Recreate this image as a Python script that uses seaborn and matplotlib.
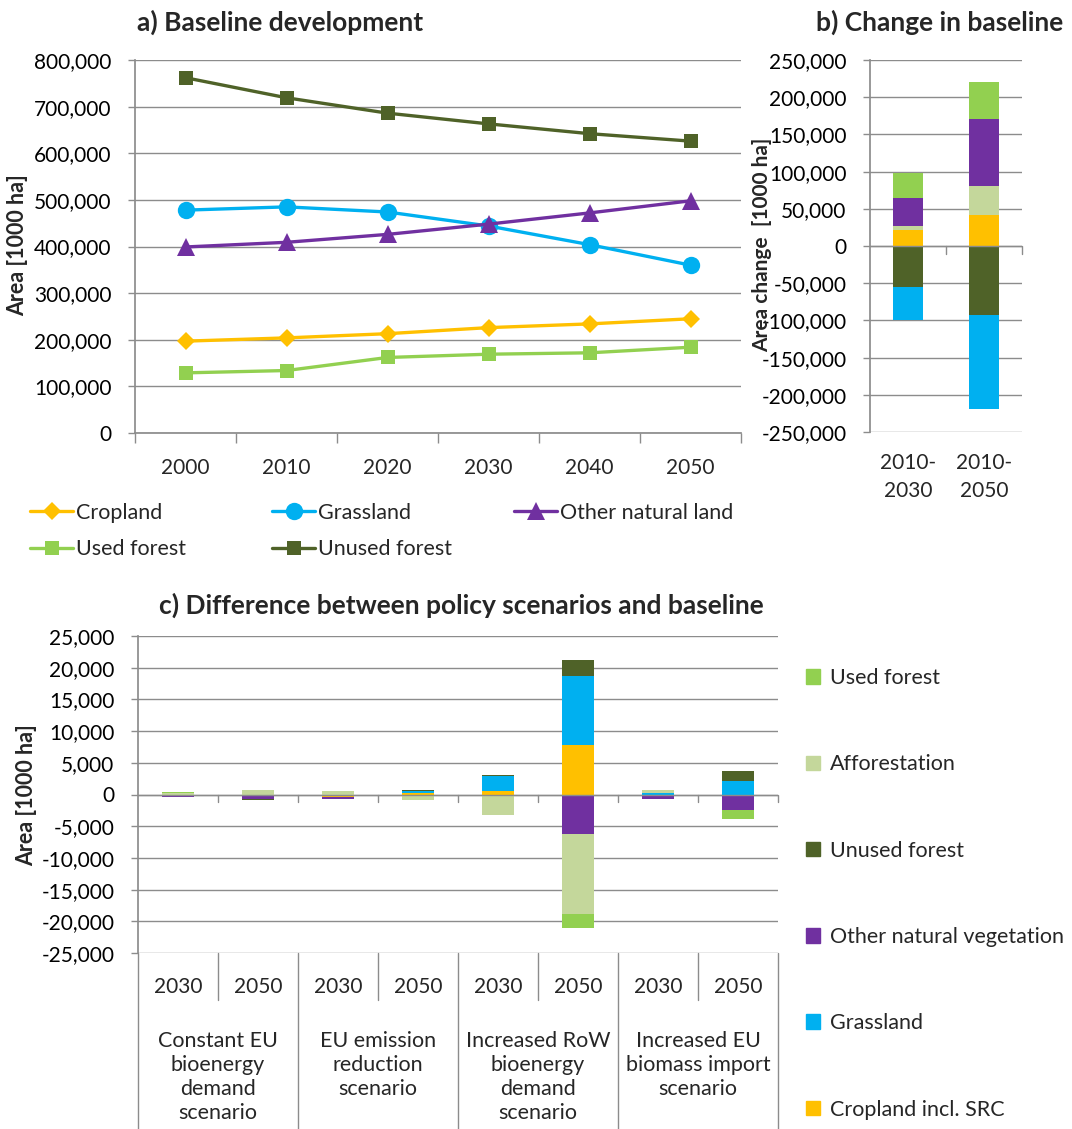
import numpy as np
import pandas as pd
import matplotlib.pyplot as plt
import seaborn as sns
from matplotlib.patches import Patch
from matplotlib.lines import Line2D
from matplotlib.ticker import FuncFormatter, MultipleLocator

sns.set_theme(style='white')
plt.rcParams['font.family'] = ['Lato', 'DejaVu Sans']

# --- data: a) baseline development [1000 ha] ---
years = [2000, 2010, 2020, 2030, 2040, 2050]
cropland = [197000, 204000, 213000, 226000, 234000, 245000]
grassland = [478000, 485000, 474000, 444000, 404000, 360000]
other_natural = [399000, 409000, 426000, 448000, 472000, 498000]
used_forest = [129000, 134000, 162000, 169000, 172000, 184000]
unused_forest = [762000, 719000, 686000, 663000, 642000, 626000]

# --- data: b) change in baseline ---
periods = ['2010-\n2030', '2010-\n2050']
b_cropland = [21500, 41700]
b_unused_forest = [-55200, -92900]
b_grassland = [-44000, -126600]
b_afforestation = [5400, 39000]
b_other_natural = [37300, 89800]
b_used_forest = [34000, 49400]

# --- data: c) difference policy scenarios vs baseline ---
c_years = ['2030', '2050', '2030', '2050', '2030', '2050', '2030', '2050']
scenarios = ['Constant EU\nbioenergy\ndemand\nscenario',
             'EU emission\nreduction\nscenario',
             'Increased RoW\nbioenergy\ndemand\nscenario',
             'Increased EU\nbiomass import\nscenario']
c_cropland = [0, 0, -400, 300, 500, 7850, -300, -200]
c_grassland = [0, -200, 0, 250, 2350, 10800, 200, 2150]
c_other_natural = [-350, -500, -250, 0, 0, -6300, -350, -2250]
c_unused_forest = [0, -150, 0, 100, 150, 2500, 100, 1500]
c_afforestation = [300, 700, 500, -850, -3200, -12500, 450, 100]
c_used_forest = [50, 0, 100, 0, 0, -2200, 0, -1450]

CROP = '#FFC000'
GRASS = '#00B0F0'
OTHER = '#7030A0'
USED = '#92D050'
UNUSED = '#4F6228'
AFFOR = '#C4D79B'
GRID = '#8c8c8c'
FS = 15
FS_TXT = 15.5
FS_TITLE = 19

W, H = 1072, 1129
fig = plt.figure(figsize=(W / 100, H / 100), dpi=100)
ax_a = fig.add_axes([135 / W, 1 - 433 / H, 606 / W, 373 / H])
ax_b = fig.add_axes([870 / W, 1 - 432 / H, 152 / W, 372 / H])
ax_c = fig.add_axes([138 / W, 1 - 953 / H, 640 / W, 317 / H])

fmt = FuncFormatter(lambda v, p: f'{v:,.0f}')


def style_axis(ax):
    for s in ['top', 'right']:
        ax.spines[s].set_visible(False)
    ax.spines['left'].set_color(GRID)
    ax.spines['bottom'].set_color(GRID)
    ax.yaxis.grid(True, color=GRID, lw=1)
    ax.set_axisbelow(True)
    ax.yaxis.set_major_formatter(fmt)
    ax.tick_params(axis='y', which='major', left=True, length=5, width=1,
                   color=GRID, pad=12, labelsize=FS, labelcolor='black')


# ---------- a) lines ----------
series_a = [('Cropland', cropland, CROP, 'D', 9.5),
            ('Grassland', grassland, GRASS, 'o', 12.5),
            ('Other natural land', other_natural, OTHER, '^', 12.5),
            ('Used forest', used_forest, USED, 's', 10.5),
            ('Unused forest', unused_forest, UNUSED, 's', 10.5)]
for name, vals, col, mk, ms in series_a:
    sns.lineplot(x=years, y=vals, ax=ax_a, color=col, marker=mk, markersize=ms,
                 markeredgewidth=0, linewidth=2.4)
style_axis(ax_a)
ax_a.set_ylim(0, 800000)
ax_a.set_xlim(1995, 2055)
ax_a.yaxis.set_major_locator(MultipleLocator(100000))
ax_a.set_xticks(years)
ax_a.set_xticklabels([str(y) for y in years])
ax_a.set_xticks(np.arange(1995, 2056, 10), minor=True)
ax_a.tick_params(axis='x', which='major', length=0, pad=18, labelsize=FS)
ax_a.tick_params(axis='x', which='minor', bottom=True, length=7, width=1, color=GRID)
ax_a.set_xlabel('')
ax_a.set_ylabel('')

# legend a: three evenly spaced columns
leg_cols = [[series_a[0], series_a[3]], [series_a[1], series_a[4]], [series_a[2]]]
for k, col_items in enumerate(leg_cols):
    handles = [Line2D([], [], color=c, marker=m, markersize=ms, markeredgewidth=0, lw=2.4)
               for _, _, c, m, ms in col_items]
    labels = [n for n, *_ in col_items]
    fig.legend(handles, labels, loc='upper left',
               bbox_to_anchor=((30 + 242 * k) / W, 1 - 503 / H),
               frameon=False, fontsize=FS_TXT, handlelength=2.0, handletextpad=0.15,
               labelspacing=0.75, borderpad=0, borderaxespad=0)

# ---------- b) stacked diverging bars ----------
xb = np.arange(len(periods))
series_b = [(b_cropland, CROP), (b_unused_forest, UNUSED), (b_grassland, GRASS),
            (b_afforestation, AFFOR), (b_other_natural, OTHER), (b_used_forest, USED)]
pos = np.zeros(len(periods))
neg = np.zeros(len(periods))
for vals, col in series_b:
    v = np.array(vals, dtype=float)
    bottom = np.where(v >= 0, pos, neg)
    ax_b.bar(xb, v, 0.4, bottom=bottom, color=col, lw=0)
    pos = pos + np.where(v >= 0, v, 0)
    neg = neg + np.where(v < 0, v, 0)
style_axis(ax_b)
ax_b.spines['bottom'].set_visible(False)
ax_b.set_ylim(-250000, 250000)
ax_b.yaxis.set_major_locator(MultipleLocator(50000))
ax_b.set_xlim(-0.5, 1.5)
ax_b.set_xticks(xb)
ax_b.set_xticklabels(periods, linespacing=1.52)
ax_b.tick_params(axis='x', which='major', length=0, pad=15, labelsize=FS)
ax_b.axhline(0, color=GRID, lw=1)
for xx in [0.5, 1.5]:
    ax_b.plot([xx, xx], [0.5, 0.478], transform=ax_b.get_xaxis_transform(),
              color=GRID, lw=1, clip_on=False)

# ---------- c) stacked diverging bars ----------
xc = np.arange(len(c_years))
series_c = [('Cropland incl. SRC', c_cropland, CROP),
            ('Grassland', c_grassland, GRASS),
            ('Other natural vegetation', c_other_natural, OTHER),
            ('Unused forest', c_unused_forest, UNUSED),
            ('Afforestation', c_afforestation, AFFOR),
            ('Used forest', c_used_forest, USED)]
pos = np.zeros(len(c_years))
neg = np.zeros(len(c_years))
for name, vals, col in series_c:
    v = np.array(vals, dtype=float)
    bottom = np.where(v >= 0, pos, neg)
    ax_c.bar(xc, v, 0.4, bottom=bottom, color=col, lw=0, label=name)
    pos = pos + np.where(v >= 0, v, 0)
    neg = neg + np.where(v < 0, v, 0)
style_axis(ax_c)
ax_c.spines['bottom'].set_visible(False)
ax_c.set_ylim(-25000, 25000)
ax_c.yaxis.set_major_locator(MultipleLocator(5000))
ax_c.set_xlim(-0.5, 7.5)
ax_c.set_xticks(xc)
ax_c.set_xticklabels(c_years)
ax_c.tick_params(axis='x', which='major', length=0, pad=17, labelsize=FS)
ax_c.axhline(0, color=GRID, lw=1)
for xx in np.arange(0.5, 8, 1):
    ax_c.plot([xx, xx], [0.5, 0.475], transform=ax_c.get_xaxis_transform(),
              color=GRID, lw=1, clip_on=False)
# category table below axis
tr = ax_c.get_xaxis_transform()
for xx in [0.5, 2.5, 4.5, 6.5]:
    ax_c.plot([xx, xx], [0, -0.148], transform=tr, color=GRID, lw=1, clip_on=False)
for xx in [-0.5, 1.5, 3.5, 5.5, 7.5]:
    ax_c.plot([xx, xx], [0, -0.56], transform=tr, color=GRID, lw=1, clip_on=False)
for i, s in enumerate(scenarios):
    ax_c.text(2 * i + 0.5, -0.245, s, transform=tr, ha='center', va='top',
              fontsize=FS_TXT, linespacing=1.25)

handles_c = [Patch(color=col) for _, _, col in series_c][::-1]
labels_c = [n for n, _, _ in series_c][::-1]
fig.legend(handles_c, labels_c, loc='upper left', bbox_to_anchor=(806 / W, 1 - 668 / H),
           frameon=False, fontsize=FS_TXT, handlelength=0.65, handleheight=0.65,
           handletextpad=0.45, labelspacing=3.08, borderpad=0, borderaxespad=0)

# ---------- titles and axis labels ----------
fig.text(280 / W, 1 - 22 / H, 'a) Baseline development', ha='center', va='center',
         fontsize=FS_TITLE, fontweight='bold')
fig.text(940 / W, 1 - 22 / H, 'b) Change in baseline', ha='center', va='center',
         fontsize=FS_TITLE, fontweight='bold')
fig.text(461 / W, 1 - 605 / H, 'c) Difference between policy scenarios and baseline',
         ha='center', va='center', fontsize=FS_TITLE, fontweight='bold')
fig.text(18 / W, 1 - 245 / H, 'Area [1000 ha]', rotation=90, ha='center', va='center',
         fontsize=FS_TXT, fontweight='bold')
fig.text(762 / W, 1 - 245 / H, 'Area change  [1000 ha]', rotation=90, ha='center',
         va='center', fontsize=FS, fontweight='bold')
fig.text(27 / W, 1 - 795 / H, 'Area [1000 ha]', rotation=90, ha='center', va='center',
         fontsize=FS_TXT, fontweight='bold')

fig.savefig('out.png', dpi=100, facecolor='white')
